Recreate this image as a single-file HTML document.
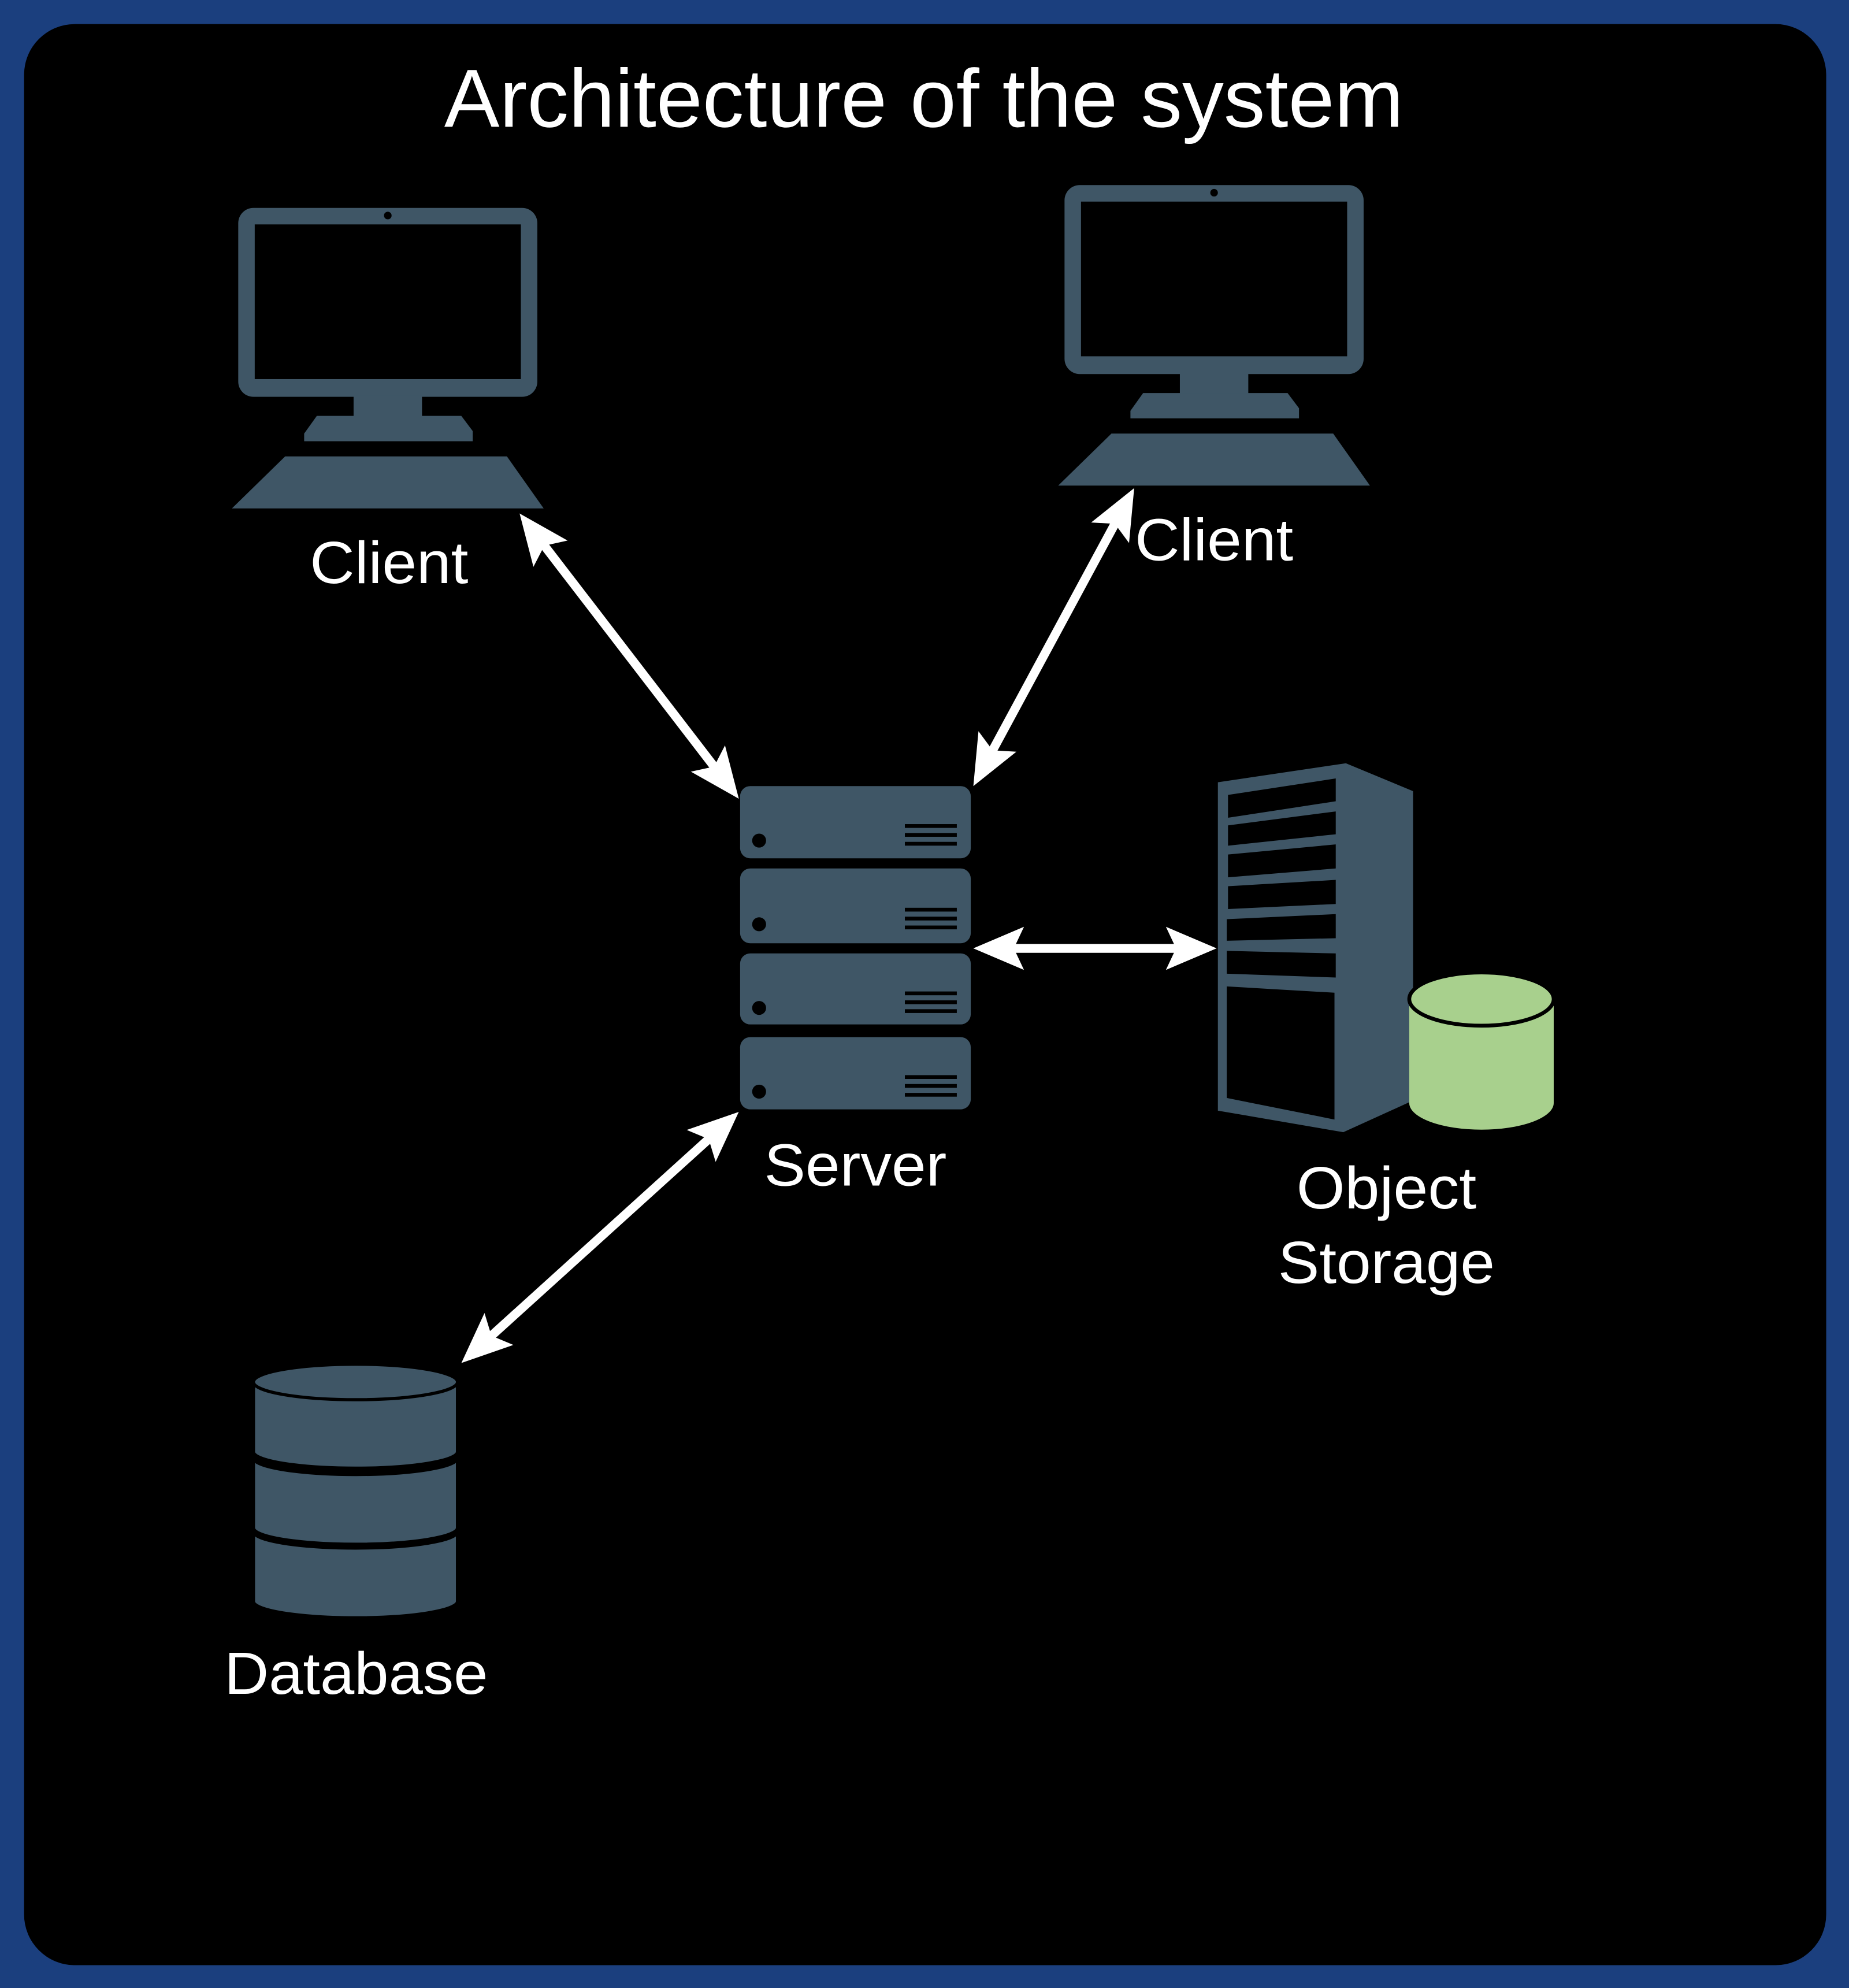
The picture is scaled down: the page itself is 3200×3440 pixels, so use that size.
<!DOCTYPE html>
<html><head><meta charset="utf-8"><style>
html,body{margin:0;padding:0;background:#1b3f7e;}
svg{display:block;}
text{font-family:"Liberation Sans",Arial,sans-serif;fill:#fff;text-anchor:middle;}
</style></head><body>
<svg width="3200" height="3440" viewBox="0 0 1459 1568" preserveAspectRatio="none" xmlns="http://www.w3.org/2000/svg">
<defs>
<marker id="ah" markerUnits="userSpaceOnUse" markerWidth="42" markerHeight="40" refX="10" refY="20" orient="auto-start-reverse" viewBox="0 0 42 40">
<path d="M0,3 L40,20 L0,37 L8,20 Z" fill="#fff"/>
</marker>
</defs>
<rect x="0" y="0" width="1459" height="1568" fill="#1b3f7e"/>
<rect x="19" y="19" width="1422" height="1531" rx="40" fill="#000"/>
<text x="729" y="100" font-size="65" textLength="757" lengthAdjust="spacingAndGlyphs">Architecture of the system</text>

<!-- Monitor 1 -->
<g fill="#3f5666">
<rect x="188" y="164" width="236" height="149" rx="12"/>
<rect x="201" y="177" width="210" height="122" fill="#000"/>
<circle cx="306" cy="170" r="3" fill="#000"/>
<rect x="279" y="312" width="54" height="18"/>
<path d="M250,328 L364,328 L373,340 L373,348 L240,348 L240,342 Z"/>
<path d="M225,360 L400,360 L429,401 L183,401 Z"/>
</g>
<!-- Monitor 2 -->
<g fill="#3f5666" transform="translate(652,-18)">
<rect x="188" y="164" width="236" height="149" rx="12"/>
<rect x="201" y="177" width="210" height="122" fill="#000"/>
<circle cx="306" cy="170" r="3" fill="#000"/>
<rect x="279" y="312" width="54" height="18"/>
<path d="M250,328 L364,328 L373,340 L373,348 L240,348 L240,342 Z"/>
<path d="M225,360 L400,360 L429,401 L183,401 Z"/>
</g>
<text x="307" y="460" font-size="47" textLength="125" lengthAdjust="spacingAndGlyphs">Client</text>
<text x="958" y="442" font-size="47" textLength="125" lengthAdjust="spacingAndGlyphs">Client</text>

<!-- Server -->
<g fill="#3f5666">
<rect x="584" y="620" width="182" height="57" rx="8"/>
<rect x="584" y="685" width="182" height="59" rx="8"/>
<rect x="584" y="752" width="182" height="56" rx="8"/>
<rect x="584" y="818" width="182" height="57" rx="8"/>
</g>
<g fill="#000">
<circle cx="599" cy="663" r="5.5"/><rect x="714" y="650" width="41" height="3"/><rect x="714" y="657" width="41" height="3"/><rect x="714" y="664" width="41" height="3"/>
<circle cx="599" cy="729" r="5.5"/><rect x="714" y="716" width="41" height="3"/><rect x="714" y="723" width="41" height="3"/><rect x="714" y="730" width="41" height="3"/>
<circle cx="599" cy="795" r="5.5"/><rect x="714" y="782" width="41" height="3"/><rect x="714" y="789" width="41" height="3"/><rect x="714" y="796" width="41" height="3"/>
<circle cx="599" cy="861" r="5.5"/><rect x="714" y="848" width="41" height="3"/><rect x="714" y="855" width="41" height="3"/><rect x="714" y="862" width="41" height="3"/>
</g>
<text x="675" y="935" font-size="47" textLength="144" lengthAdjust="spacingAndGlyphs">Server</text>

<!-- Storage tower -->
<path d="M961,617 L1062,602 L1115,624 L1115,868 L1060,893 L961,876 Z" fill="#3f5666"/>
<g fill="#000">
<path d="M969,627 L1054,614 L1054,632 L969,645 Z"/>
<path d="M969,651 L1054,640 L1054,658 L969,667 Z"/>
<path d="M969,674 L1054,666 L1054,685 L969,692 Z"/>
<path d="M969,699 L1054,694 L1054,713 L969,717 Z"/>
<path d="M968,725 L1054,721 L1054,740 L968,742 Z"/>
<path d="M968,750 L1054,752 L1054,771 L968,768 Z"/>
<path d="M968,778 L1053,783 L1053,883 L968,866 Z"/>
</g>
<!-- green cylinder -->
<path d="M1112,788 L1112,870 A57,21 0 0 0 1226,870 L1226,788 Z" fill="#a8d08d"/>
<ellipse cx="1169" cy="788" rx="57" ry="21" fill="#a8d08d" stroke="#000" stroke-width="3"/>
<text x="1094" y="953" font-size="47" textLength="142" lengthAdjust="spacingAndGlyphs">Object</text>
<text x="1094" y="1012" font-size="47" textLength="171" lengthAdjust="spacingAndGlyphs">Storage</text>

<!-- Database -->
<g fill="#3f5666" stroke="#000" stroke-width="2.5">
<path d="M200,1208 L200,1263 A80.5,13 0 0 0 361,1263 L361,1208 A80.5,13 0 0 1 200,1208 Z"/>
<path d="M200,1150 L200,1205 A80.5,13 0 0 0 361,1205 L361,1150 A80.5,13 0 0 1 200,1150 Z"/>
<path d="M200,1090 L200,1145 A80.5,13 0 0 0 361,1145 L361,1090 Z"/>
<ellipse cx="280.5" cy="1090" rx="80.5" ry="14"/>
</g>
<text x="281" y="1336" font-size="47" textLength="208" lengthAdjust="spacingAndGlyphs">Database</text>

<!-- Arrows -->
<g stroke="#fff" stroke-width="7" fill="none" marker-start="url(#ah)" marker-end="url(#ah)">
<line x1="428.3" y1="428.8" x2="564.7" y2="606.2"/>
<line x1="880.7" y1="411.4" x2="782.3" y2="593.6"/>
<line x1="798" y1="748" x2="930" y2="748"/>
<line x1="560.7" y1="897.1" x2="386.3" y2="1054.9"/>
</g>
</svg>
</body></html>
